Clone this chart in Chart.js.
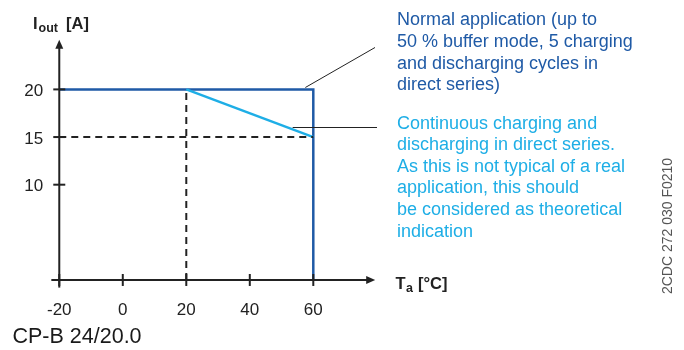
<!DOCTYPE html>
<html>
<head>
<meta charset="utf-8">
<script src="https://cdn.jsdelivr.net/npm/chart.js@4.4.0/dist/chart.umd.min.js"></script>
<style>
  html, body { margin: 0; padding: 0; background: #fff; }
  #wrap { position: relative; width: 684px; height: 350px; }
</style>
</head>
<body>
<div id="wrap"><canvas id="derating" width="684" height="350"></canvas></div>
<script>
// --- data ---
const xTicks = [-20, 0, 20, 40, 60];
const yTicks = [10, 15, 20];

const normalTemp = [-20, 60, 60];
const normalCurrent = [20, 20, 0];

const contTemp = [20, 60];
const contCurrent = [20, 15];

const guideHTemp = [-20, 60];
const guideHCurrent = [15, 15];
const guideVTemp = [20, 20];
const guideVCurrent = [0, 20];

const normalNote = ['Normal application (up to', '50 % buffer mode, 5 charging', 'and discharging cycles in', 'direct series)'];
const contNote = ['Continuous charging and', 'discharging in direct series.', 'As this is not typical of a real', 'application, this should', 'be considered as theoretical', 'indication'];

const DARK_BLUE = '#1f5aa6';
const LIGHT_BLUE = '#1eaee6';
const FONT = '"Liberation Sans", Arial, sans-serif';

function pts(xs, ys) {
  return xs.map((x, i) => ({ x: x, y: ys[i] }));
}

const axesPlugin = {
  id: 'axesPlugin',
  afterDatasetsDraw(chart) {
    const ctx = chart.ctx;
    const xs = chart.scales.x;
    const ys = chart.scales.y;
    const x0 = xs.getPixelForValue(-20);
    const y0 = ys.getPixelForValue(0);
    ctx.save();
    ctx.strokeStyle = '#222';
    ctx.fillStyle = '#222';
    ctx.lineWidth = 2;

    // x axis with arrow
    const xStart = xs.getPixelForValue(-22.5);
    const xEnd = xs.getPixelForValue(79.5);
    ctx.beginPath();
    ctx.moveTo(xStart, y0);
    ctx.lineTo(xEnd - 6, y0);
    ctx.stroke();
    ctx.beginPath();
    ctx.moveTo(xEnd, y0);
    ctx.lineTo(xEnd - 9, y0 - 4);
    ctx.lineTo(xEnd - 9, y0 + 4);
    ctx.closePath();
    ctx.fill();

    // y axis with arrow
    const yStart = ys.getPixelForValue(-0.8);
    const yEnd = ys.getPixelForValue(25.2);
    ctx.beginPath();
    ctx.moveTo(x0, yStart);
    ctx.lineTo(x0, yEnd + 6);
    ctx.stroke();
    ctx.beginPath();
    ctx.moveTo(x0, yEnd);
    ctx.lineTo(x0 - 4, yEnd + 9);
    ctx.lineTo(x0 + 4, yEnd + 9);
    ctx.closePath();
    ctx.fill();

    // tick marks crossing the axes
    xTicks.forEach(v => {
      const px = xs.getPixelForValue(v);
      ctx.beginPath();
      ctx.moveTo(px, y0 - 6);
      ctx.lineTo(px, y0 + 6);
      ctx.stroke();
    });
    yTicks.forEach(v => {
      const py = ys.getPixelForValue(v);
      ctx.beginPath();
      ctx.moveTo(x0 - 6, py);
      ctx.lineTo(x0 + 6, py);
      ctx.stroke();
    });

    // tick labels
    ctx.font = '17px ' + FONT;
    ctx.textBaseline = 'alphabetic';
    ctx.textAlign = 'center';
    xTicks.forEach(v => {
      ctx.fillText(String(v), xs.getPixelForValue(v), y0 + 35);
    });
    ctx.textAlign = 'right';
    yTicks.forEach(v => {
      ctx.fillText(String(v), x0 - 16, ys.getPixelForValue(v) + 6.5);
    });

    // axis titles
    ctx.textAlign = 'left';
    ctx.font = 'bold 16.5px ' + FONT;
    ctx.fillText('I', 33, 29);
    ctx.font = 'bold 12.5px ' + FONT;
    ctx.fillText('out', 38.5, 32);
    ctx.font = 'bold 16.5px ' + FONT;
    ctx.fillText('[A]', 66, 29);

    ctx.fillText('T', 395.5, 289);
    ctx.font = 'bold 12.5px ' + FONT;
    ctx.fillText('a', 406, 292);
    ctx.font = 'bold 16.5px ' + FONT;
    ctx.fillText('[°C]', 418, 289);

    // model name
    ctx.font = '21.5px ' + FONT;
    ctx.fillStyle = '#1a1a1a';
    ctx.fillText('CP-B 24/20.0', 12.5, 342.5);

    // leader lines
    ctx.lineWidth = 1;
    ctx.beginPath();
    ctx.moveTo(xs.getPixelForValue(57.5), ys.getPixelForValue(20.2));
    ctx.lineTo(375, 47.5);
    ctx.moveTo(xs.getPixelForValue(53.5), 127.5);
    ctx.lineTo(377, 127.5);
    ctx.stroke();

    // notes
    ctx.font = '18px ' + FONT;
    ctx.fillStyle = DARK_BLUE;
    normalNote.forEach((t, i) => ctx.fillText(t, 397, 25 + i * 21.8));
    ctx.fillStyle = LIGHT_BLUE;
    contNote.forEach((t, i) => ctx.fillText(t, 397, 128.5 + i * 21.6));

    // drawing number, rotated
    ctx.save();
    ctx.translate(672, 226);
    ctx.rotate(-Math.PI / 2);
    ctx.fillStyle = '#555';
    ctx.font = '14px ' + FONT;
    ctx.textAlign = 'center';
    ctx.fillText('2CDC 272 030 F0210', 0, 0);
    ctx.restore();

    ctx.restore();
  }
};

const dashed = { borderColor: '#222', borderWidth: 2, borderDash: [7, 5], pointRadius: 0, showLine: true, fill: false };

new Chart(document.getElementById('derating'), {
  type: 'scatter',
  data: {
    datasets: [
      Object.assign({ label: 'guide 15 A', data: pts(guideHTemp, guideHCurrent) }, dashed),
      Object.assign({ label: 'guide 20 °C', data: pts(guideVTemp, guideVCurrent) }, dashed),
      {
        label: 'Continuous charging',
        data: pts(contTemp, contCurrent),
        borderColor: LIGHT_BLUE, borderWidth: 2.5, pointRadius: 0, showLine: true, fill: false
      },
      {
        label: 'Normal application',
        data: pts(normalTemp, normalCurrent),
        borderColor: DARK_BLUE, borderWidth: 2.5, pointRadius: 0, showLine: true, fill: false,
        borderJoinStyle: 'miter'
      }
    ]
  },
  options: {
    responsive: false,
    animation: false,
    layout: { padding: { left: 43.4, right: 307.2, top: 37, bottom: 60.5 } },
    plugins: { legend: { display: false }, tooltip: { enabled: false } },
    scales: {
      x: { type: 'linear', min: -25, max: 80, display: false },
      y: { type: 'linear', min: -1, max: 25.5, display: false }
    }
  },
  plugins: [axesPlugin]
});
</script>
</body>
</html>
